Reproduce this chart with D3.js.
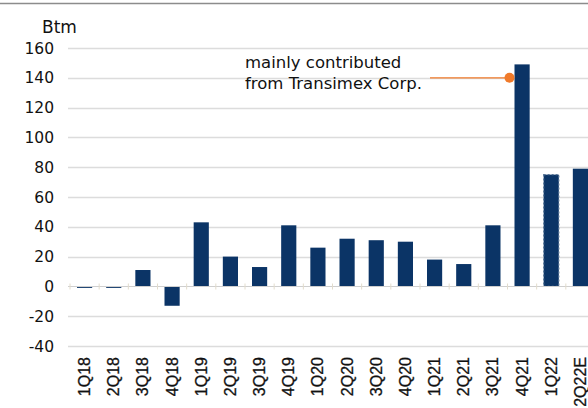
<!DOCTYPE html>
<html>
<head>
<meta charset="utf-8">
<script src="https://cdn.jsdelivr.net/npm/d3@7"></script>
<style>
  html, body { margin: 0; padding: 0; background: #fff; }
  svg { display: block; }
</style>
</head>
<body>
<div id="chart"></div>
<script>
const quarters = ["1Q18", "2Q18", "3Q18", "4Q18", "1Q19", "2Q19", "3Q19", "4Q19",
    "1Q20", "2Q20", "3Q20", "4Q20", "1Q21", "2Q21", "3Q21", "4Q21", "1Q22", "2Q22E"];
const profit = [-1, -1, 11, -13, 43, 20, 13, 41, 26, 32, 31, 30, 18, 15, 41, 149, 75, 79];
const dashedQuarters = ["1Q22"];
const yTicks = [-40, -20, 0, 20, 40, 60, 80, 100, 120, 140, 160];
const unitLabel = "Btm";
const noteLines = ["mainly contributed", "from Transimex Corp."];
const noteQuarter = "4Q21";
const noteValue = 140;

const width = 588;
const height = 408;
const margin = { top: 48, bottom: 62, left: 70, right: -7 };
const labelFont = "DejaVu Sans, Verdana, sans-serif";

const svg = d3
    .select("#chart")
    .append("svg")
    .attr("width", width)
    .attr("height", height);

// thin rule at the very top of the clipped page
svg.append("line")
    .attr("x1", 0).attr("x2", width)
    .attr("y1", 3.5).attr("y2", 3.5)
    .attr("stroke", "#8c8c8c")
    .attr("stroke-width", 1.5);

const x = d3.scaleBand()
    .domain(quarters)
    .range([margin.left, width - margin.right])
    .paddingInner(0.48)
    .paddingOuter(0.24);

const y = d3.scaleLinear()
    .domain([-40, 160])
    .range([height - margin.bottom, margin.top]);

// gridlines
svg.append("g")
    .selectAll("line")
    .data(yTicks.filter((d) => d !== 0))
    .enter()
    .append("line")
    .attr("x1", 68)
    .attr("x2", width)
    .attr("y1", (d) => Math.round(y(d)) + 0.5)
    .attr("y2", (d) => Math.round(y(d)) + 0.5)
    .attr("stroke", "#dcdcdc")
    .attr("stroke-width", 1.5);

// y tick labels
svg.append("g")
    .selectAll("text")
    .data(yTicks)
    .enter()
    .append("text")
    .attr("x", 54)
    .attr("y", (d) => y(d))
    .attr("dy", "0.36em")
    .attr("text-anchor", "end")
    .attr("font-family", labelFont)
    .attr("font-size", "15.5px")
    .attr("fill", "#111")
    .text((d) => d);

svg.append("text")
    .attr("x", 42)
    .attr("y", 33)
    .attr("font-family", labelFont)
    .attr("font-size", "17px")
    .attr("fill", "#111")
    .text(unitLabel);

// bars
svg.append("g")
    .selectAll("rect")
    .data(quarters)
    .enter()
    .append("rect")
    .attr("x", (d) => x(d))
    .attr("width", x.bandwidth())
    .attr("y", (d, i) => y(Math.max(0, profit[i])))
    .attr("height", (d, i) => Math.abs(y(profit[i]) - y(0)))
    .attr("fill", "#0b3466")
    .attr("stroke", (d) => dashedQuarters.includes(d) ? "#5c7899" : "none")
    .attr("stroke-width", 1.2)
    .attr("stroke-dasharray", "2,2");

// zero axis with category ticks
const zeroY = Math.round(y(0)) + 0.5;
svg.append("line")
    .attr("x1", 68).attr("x2", width)
    .attr("y1", zeroY).attr("y2", zeroY)
    .attr("stroke", "#cfcfcf")
    .attr("stroke-width", 1);
svg.append("g")
    .selectAll("line")
    .data(quarters)
    .enter()
    .append("line")
    .attr("x1", (d) => x(d) - x.step() * x.paddingInner() / 2)
    .attr("x2", (d) => x(d) - x.step() * x.paddingInner() / 2)
    .attr("y1", zeroY - 3)
    .attr("y2", zeroY + 3)
    .attr("stroke", "#e2dccd")
    .attr("stroke-width", 1);

// x labels, rotated
svg.append("g")
    .selectAll("text")
    .data(quarters)
    .enter()
    .append("text")
    .attr("transform", (d) => `translate(${x(d) + x.bandwidth() / 2 + 5.5}, 357) rotate(-90)`)
    .attr("text-anchor", "end")
    .attr("font-family", "Liberation Sans, Arial, sans-serif")
    .attr("font-size", "16px")
    .attr("fill", "#111")
    .attr("stroke", "#111")
    .attr("stroke-width", 0.3)
    .text((d) => d);

// annotation
const note = svg.append("g");
note.append("text")
    .attr("x", 245)
    .attr("y", 68)
    .attr("font-family", labelFont)
    .attr("font-size", "16.5px")
    .attr("fill", "#111")
    .selectAll("tspan")
    .data(noteLines)
    .enter()
    .append("tspan")
    .attr("x", 245)
    .attr("dy", (d, i) => i === 0 ? 0 : 21)
    .text((d) => d);

const dotX = x(noteQuarter) - 5;
note.append("line")
    .attr("x1", 430)
    .attr("x2", dotX)
    .attr("y1", y(noteValue))
    .attr("y2", y(noteValue))
    .attr("stroke", "#f07a2a")
    .attr("stroke-width", 1.2);
note.append("circle")
    .attr("cx", dotX)
    .attr("cy", y(noteValue))
    .attr("r", 5)
    .attr("fill", "#f07a2a");
</script>
</body>
</html>
